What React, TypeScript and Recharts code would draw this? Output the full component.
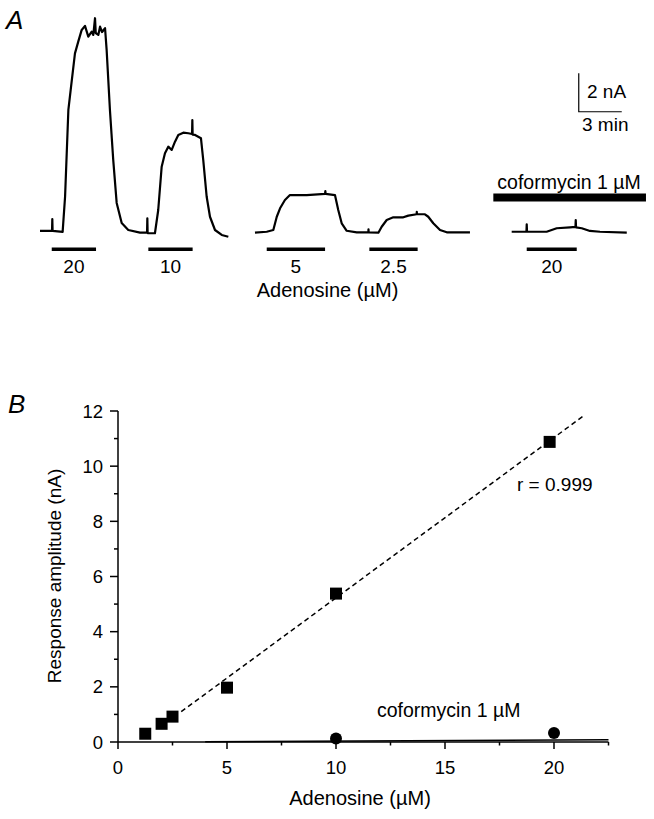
import React from "react";
import {
  LineChart,
  Line,
  XAxis,
  YAxis,
  ReferenceLine,
  ComposedChart,
  Scatter,
} from "recharts";

const FONT = "'Liberation Sans', Arial, Helvetica, sans-serif";

// ---- panel A: current traces (time in min, current in nA)
const trace1Time = [
  2.79, 3.63, 3.65, 3.67, 4.37, 4.54, 4.77, 4.93, 5.23, 5.46, 5.7, 5.93, 6.16,
  6.4, 6.51, 6.63, 6.68, 6.86, 6.98, 7.12, 7.33, 7.44, 7.67, 7.9, 8.14, 8.49,
  8.95, 9.77, 10.26, 10.28, 10.3, 10.81, 11.04, 11.28, 11.51, 11.74, 11.98,
  12.21, 12.44, 12.79, 13.14, 13.4, 13.42, 13.44, 13.61, 14.02, 14.18, 14.42,
  14.65, 15.0, 15.47, 15.93,
];
const trace1Current = [
  0.08, 0.08, 0.7, 0.08, 0.03, 1.86, 6.38, 7.42, 9.33, 9.94, 10.55, 10.76,
  10.2, 10.46, 10.29, 11.16, 10.39, 10.29, 10.72, 10.44, 10.64, 9.51, 6.38,
  3.78, 1.54, 0.49, 0.13, -0.01, -0.01, 0.74, -0.03, -0.04, 1.17, 3.43, 4.13,
  4.47, 4.3, 4.73, 5.08, 5.2, 5.17, 5.13, 5.86, 5.1, 5.08, 4.91, 3.78, 1.86,
  0.82, 0.13, -0.13, -0.22,
];
const trace2Time = [
  17.79, 18.61, 19.07, 19.31, 19.54, 19.88, 20.23, 20.7, 21.4, 22.68, 22.7,
  22.72, 23.37, 23.6, 23.84, 24.19, 24.89, 25.7, 25.71, 25.72, 26.4, 26.63,
  26.98, 27.44, 28.14, 28.49, 29.07, 29.08, 29.09, 29.65, 29.88, 30.23, 30.7,
  31.17, 32.79,
];
const trace2Current = [
  -0.01, 0.04, 0.13, 0.82, 1.26, 1.69, 1.95, 1.95, 1.95, 2.01, 2.16, 2.01,
  1.95, 1.17, 0.48, 0.09, 0.01, 0.01, 0.17, 0.01, -0.01, 0.3, 0.65, 0.79, 0.79,
  0.88, 0.95, 1.08, 0.95, 0.95, 0.82, 0.48, 0.13, 0.01, 0.01,
];
const trace3Time = [
  35.7, 36.73, 36.75, 36.77, 38.14, 38.84, 39.77, 40.15, 40.17, 40.19, 40.59,
  41.16, 41.86, 43.73,
];
const trace3Current = [
  0.04, 0.04, 0.43, 0.04, 0.04, 0.22, 0.27, 0.29, 0.65, 0.27, 0.22, 0.08, 0.04,
  -0.01,
];

// adenosine application bars
const barStart = [3.61, 10.35, 18.61, 25.77, 36.75];
const barEnd = [6.7, 13.44, 22.68, 29.14, 40.24];
const barLabels = ["20", "10", "5", "2.5", "20"];
const barLevel = -0.87;
const coformycinBar = [34.42, 45.07];
const coformycinLevel = 1.82;
const scaleCorner = [40.38, 6.29]; // 3 min x 2 nA

// ---- panel B: response amplitude vs adenosine
const adoConc = [1.25, 2, 2.5, 5, 10, 19.8];
const adoResp = [0.3, 0.66, 0.92, 1.97, 5.38, 10.88];
const cofConc = [10, 20];
const cofResp = [0.13, 0.33];
const fitAdo = [
  [2.9, 1.1],
  [21.4, 11.85],
];
const fitCof = [
  [4, 0.01],
  [22.5, 0.08],
];
const yTicks = [0, 1, 2, 3, 4, 5, 6, 7, 8, 9, 10, 11, 12];
const xTicks = [0, 2.5, 5, 7.5, 10, 12.5, 15, 17.5, 20, 22.5];

const zip = (t: number[], v: number[]) => t.map((x, i) => ({ t: x, v: v[i] }));
const trace1 = zip(trace1Time, trace1Current);
const trace2 = zip(trace2Time, trace2Current);
const trace3 = zip(trace3Time, trace3Current);
const scaleBar = [
  { t: scaleCorner[0], v: scaleCorner[1] + 2 },
  { t: scaleCorner[0], v: scaleCorner[1] },
  { t: scaleCorner[0] + 3, v: scaleCorner[1] },
];
const adoPoints = adoConc.map((x, i) => ({ x, y: adoResp[i] }));
const cofPoints = cofConc.map((x, i) => ({ x, y: cofResp[i] }));

const YTick = (p: any) => {
  const major = p.payload.value % 2 === 0;
  return (
    <g>
      <line x1={p.x} x2={p.x - (major ? 8 : 4)} y1={p.y} y2={p.y} stroke="#000" strokeWidth={1.5} />
      {major && (
        <text x={p.x - 15} y={p.y + 6.5} textAnchor="end" fontSize={18.5} fontFamily={FONT} fill="#000">
          {p.payload.value}
        </text>
      )}
    </g>
  );
};

const XTick = (p: any) => {
  const major = p.payload.value % 5 === 0;
  return (
    <g>
      <line x1={p.x} x2={p.x} y1={p.y} y2={p.y + (major ? 7 : 3.5)} stroke="#000" strokeWidth={1.5} />
      {major && (
        <text x={p.x} y={p.y + 31.5} textAnchor="middle" fontSize={18.5} fontFamily={FONT} fill="#000">
          {p.payload.value}
        </text>
      )}
    </g>
  );
};

const Square = (p: any) => (
  <rect x={p.cx - 6} y={p.cy - 6} width={12} height={12} fill="#000" />
);
const Dot = (p: any) => <circle cx={p.cx} cy={p.cy} r={6} fill="#000" />;

const txt = { fontFamily: FONT, fontSize: 19, fill: "#000" };

export default function App() {
  return (
    <div style={{ position: "absolute", left: 0, top: 0, width: 654, height: 819, background: "#fff" }}>
      <div style={{ position: "absolute", left: 0, top: 0 }}>
        <LineChart width={654} height={300} margin={{ top: 0, right: 0, bottom: 0, left: 0 }}>
          <XAxis type="number" dataKey="t" domain={[0, 45.63]} hide allowDataOverflow />
          <YAxis type="number" dataKey="v" domain={[-3.516, 12.109]} hide allowDataOverflow />
          {[trace1, trace2, trace3].map((d, i) => (
            <Line
              key={i}
              data={d}
              dataKey="v"
              type="linear"
              stroke="#000"
              strokeWidth={2.2}
              strokeLinejoin="round"
              dot={false}
              activeDot={false}
              isAnimationActive={false}
            />
          ))}
          <Line
            data={scaleBar}
            dataKey="v"
            type="linear"
            stroke="#000"
            strokeWidth={1.2}
            dot={false}
            activeDot={false}
            isAnimationActive={false}
          />
          {barStart.map((s, i) => (
            <ReferenceLine
              key={i}
              segment={[
                { x: s, y: barLevel },
                { x: barEnd[i], y: barLevel },
              ]}
              stroke="#000"
              strokeWidth={3.5}
              label={{
                value: barLabels[i],
                position: "bottom",
                offset: 10,
                fontSize: 19,
                fontFamily: FONT,
                fill: "#000",
              }}
            />
          ))}
          <ReferenceLine
            segment={[
              { x: coformycinBar[0], y: coformycinLevel },
              { x: coformycinBar[1], y: coformycinLevel },
            ]}
            stroke="#000"
            strokeWidth={8}
          />
        </LineChart>
      </div>

      <div style={{ position: "absolute", left: 0, top: 300 }}>
        <ComposedChart width={654} height={519} margin={{ top: 111, right: 45.5, bottom: 47, left: 58 }}>
          <XAxis
            type="number"
            dataKey="x"
            domain={[0, 22.5]}
            ticks={xTicks}
            interval={0}
            tick={<XTick />}
            tickLine={false}
            tickSize={0}
            tickMargin={0}
            height={30}
            axisLine={{ stroke: "#000", strokeWidth: 1.5 }}
          />
          <YAxis
            type="number"
            dataKey="y"
            domain={[0, 12]}
            ticks={yTicks}
            interval={0}
            tick={<YTick />}
            tickLine={false}
            tickSize={0}
            tickMargin={0}
            width={60}
            axisLine={{ stroke: "#000", strokeWidth: 1.5 }}
          />
          <ReferenceLine
            segment={fitAdo.map(([x, y]) => ({ x, y }))}
            stroke="#000"
            strokeWidth={1.5}
            strokeDasharray="5 3.5"
          />
          <ReferenceLine
            segment={fitCof.map(([x, y]) => ({ x, y }))}
            stroke="#000"
            strokeWidth={1.5}
          />
          <Scatter data={adoPoints} shape={<Square />} isAnimationActive={false} />
          <Scatter data={cofPoints} shape={<Dot />} isAnimationActive={false} />
        </ComposedChart>
      </div>

      <svg
        width={654}
        height={819}
        style={{ position: "absolute", left: 0, top: 0, pointerEvents: "none" }}
      >
        <text x={6} y={29} {...txt} fontSize={26} fontStyle="italic">A</text>
        <text x={587} y={98} {...txt}>2 nA</text>
        <text x={582} y={131} {...txt}>3 min</text>
        <text x={569} y={189} {...txt} fontSize={19.5} textAnchor="middle">coformycin 1 µM</text>
        <text x={327.5} y={297} {...txt} fontSize={20} textAnchor="middle">Adenosine (µM)</text>

        <text x={8} y={413} {...txt} fontSize={26} fontStyle="italic">B</text>
        <text x={517} y={491} {...txt}>r = 0.999</text>
        <text x={377} y={717} {...txt} fontSize={19.5}>coformycin 1 µM</text>
        <text x={360} y={805} {...txt} fontSize={20} textAnchor="middle">Adenosine (µM)</text>
        <text
          x={0}
          y={0}
          {...txt}
          textAnchor="middle"
          transform="translate(61,576) rotate(-90)"
        >
          Response amplitude (nA)
        </text>
      </svg>
    </div>
  );
}
